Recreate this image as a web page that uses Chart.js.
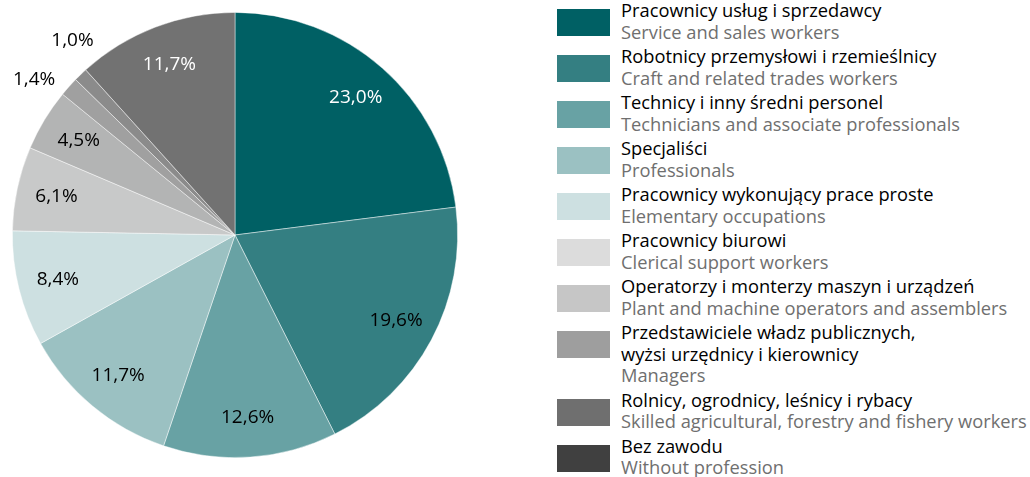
<!DOCTYPE html>
<html>
<head>
<meta charset="utf-8">
<script src="https://cdnjs.cloudflare.com/ajax/libs/Chart.js/4.4.1/chart.umd.min.js"></script>
<style>
  html,body{margin:0;padding:0;background:#fff;}
  body{width:1030px;height:477px;position:relative;overflow:hidden;font-family:"Open Sans",sans-serif;}
  #pieBox{position:absolute;left:0;top:0;width:470px;height:470px;}
  #legend{position:absolute;left:557px;top:-1px;}
  .item{position:relative;padding-left:64px;margin-bottom:3px;font-size:18.3px;line-height:21.5px;white-space:nowrap;}
  .item .sw{position:absolute;left:0;top:10px;width:53px;height:27px;}
  .item .pl{color:#000;}
  .item .en{color:#6f6f6f;}
</style>
</head>
<body>
<div id="pieBox"><canvas id="chart"></canvas></div>
<div id="legend"></div>
<script>
// Occupational groups, pie order (clockwise from 12 o'clock)
const LABELS_PL = [
  'Pracownicy usług i sprzedawcy',
  'Robotnicy przemysłowi i rzemieślnicy',
  'Technicy i inny średni personel',
  'Specjaliści',
  'Pracownicy wykonujący prace proste',
  'Pracownicy biurowi',
  'Operatorzy i monterzy maszyn i urządzeń',
  'Przedstawiciele władz publicznych,\nwyżsi urzędnicy i kierownicy',
  'Rolnicy, ogrodnicy, leśnicy i rybacy',
  'Bez zawodu',
];
const LABELS_EN = [
  'Service and sales workers',
  'Craft and related trades workers',
  'Technicians and associate professionals',
  'Professionals',
  'Elementary occupations',
  'Clerical support workers',
  'Plant and machine operators and assemblers',
  'Managers',
  'Skilled agricultural, forestry and fishery workers',
  'Without profession',
];
const SHARES = [23.0, 19.6, 12.6, 11.7, 8.4, 6.1, 4.5, 1.4, 1.0, 11.7];

const PIE_COLORS    = ['#006064','#347f82','#68a2a4','#9bc1c2','#cde0e1','#c8c9c9','#b3b4b4','#a0a0a0','#8b8b8b','#727272'];
const LEGEND_COLORS = ['#006064','#347f82','#68a2a4','#9bc1c2','#cde0e1','#dcdcdc','#c6c6c6','#9e9e9e','#6f6f6f','#404040'];
const LABEL_COLORS  = ['#fff','#000','#000','#000','#000','#000','#000','#000','#000','#fff'];

const fmt = v => v.toFixed(1).replace('.', ',') + '%';

// --- legend (HTML, two-language entries) ---------------------------------
const leg = document.getElementById('legend');
LABELS_PL.forEach((pl, i) => {
  const d = document.createElement('div'); d.className = 'item';
  d.innerHTML = `<span class="sw" style="background:${LEGEND_COLORS[i]}"></span>` +
    pl.split('\n').map(s => `<div class="pl">${s}</div>`).join('') +
    `<div class="en">${LABELS_EN[i]}</div>`;
  leg.appendChild(d);
});

// --- percentage labels on / beside the slices ----------------------------
// tiny slices get their label outside; neighbours are pushed apart a little
const MIN_GAP = 12.5 * Math.PI / 180;
const sliceLabels = {
  id: 'sliceLabels',
  afterDatasetsDraw(chart) {
    const ctx = chart.ctx;
    const arcs = chart.getDatasetMeta(0).data.map((arc, i) => {
      const p = arc.getProps(['x','y','startAngle','endAngle','outerRadius'], true);
      return {...p, i, mid: (p.startAngle + p.endAngle) / 2, small: SHARES[i] < 2};
    });
    const out = arcs.filter(a => a.small);
    for (let k = 1; k < out.length; k++) {
      const a = out[k-1], b = out[k], gap = b.mid - a.mid;
      if (gap < MIN_GAP) { const push = (MIN_GAP - gap) / 2; a.mid -= push; b.mid += push; }
    }
    ctx.save();
    ctx.font = '19px "Open Sans", sans-serif';
    ctx.textAlign = 'center'; ctx.textBaseline = 'middle';
    arcs.forEach(a => {
      const r = a.small ? a.outerRadius * 1.14 : a.outerRadius * 0.82;
      ctx.fillStyle = a.small ? '#000' : LABEL_COLORS[a.i];
      ctx.fillText(fmt(SHARES[a.i]), a.x + Math.cos(a.mid) * r, a.y + Math.sin(a.mid) * r);
    });
    ctx.restore();
  }
};

new Chart(document.getElementById('chart'), {
  type: 'pie',
  data: {
    labels: LABELS_EN,
    datasets: [{ data: SHARES, backgroundColor: PIE_COLORS, borderColor: 'rgba(255,255,255,0.6)', borderWidth: 0.75 }]
  },
  options: {
    responsive: true, maintainAspectRatio: false, animation: false,
    layout: { padding: 12 },
    plugins: { legend: { display: false }, tooltip: { enabled: false } },
  },
  plugins: [sliceLabels],
});
</script>
</body>
</html>
